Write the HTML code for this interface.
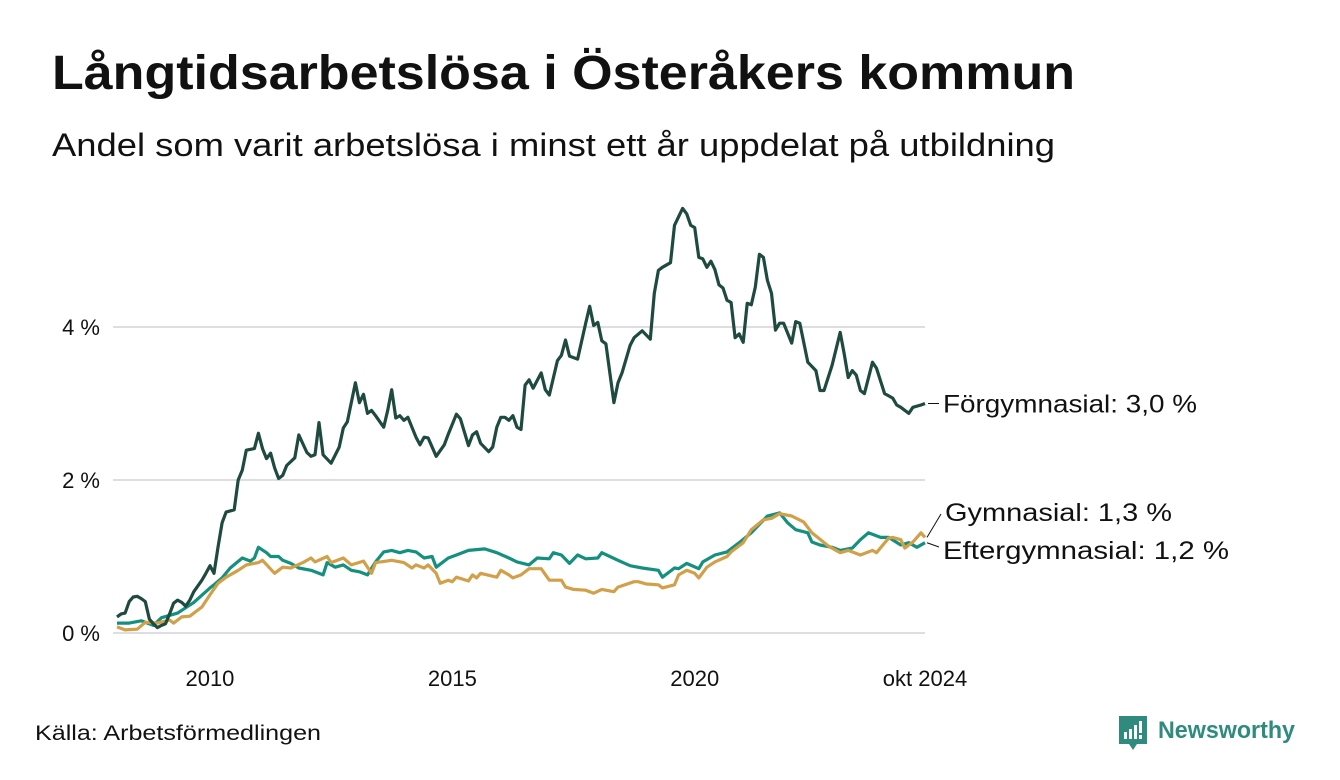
<!DOCTYPE html>
<html><head><meta charset="utf-8">
<style>
html,body{margin:0;padding:0;background:#fff;}
svg{display:block;font-family:"Liberation Sans",sans-serif;}
</style></head>
<body>
<svg id="chart" width="1340" height="780" viewBox="0 0 1340 780" xmlns="http://www.w3.org/2000/svg">
<rect width="1340" height="780" fill="#fff"/>
<text x="52" y="89" font-size="48" font-weight="bold" fill="#111" textLength="1023" lengthAdjust="spacingAndGlyphs">Långtidsarbetslösa i Österåkers kommun</text>
<text x="52" y="156" font-size="32" fill="#111" textLength="1003" lengthAdjust="spacingAndGlyphs">Andel som varit arbetslösa i minst ett år uppdelat på utbildning</text>
<g id="grid"></g>
<g id="xaxis"></g>
<g id="series"></g>
<g id="labels"></g>
<text x="35" y="740" font-size="21" fill="#111" textLength="286" lengthAdjust="spacingAndGlyphs">Källa: Arbetsförmedlingen</text>
<g>
<path d="M1119 716 h28 v28 h-10 l-4 6 l-4 -6 h-10 z" fill="#2e8b7d"/>
<rect x="1124" y="732" width="3" height="7" fill="#fff"/>
<rect x="1129" y="729" width="3" height="10" fill="#fff"/>
<rect x="1134" y="725" width="3" height="14" fill="#fff"/>
<rect x="1139" y="721" width="3" height="12" fill="#fff"/>
<rect x="1139" y="735" width="3" height="4" fill="#fff"/>
<text x="1158" y="738" font-size="24" font-weight="bold" fill="#2e8b7d" textLength="137" lengthAdjust="spacingAndGlyphs">Newsworthy</text>
</g>
</svg>
<script>
// months since Jan 2008, values in %
const forgMonths=[1,2,3,4,5,6,7,8,9,10,11,12,13,14,15,16,17,18,19,20,22,23,24,25,26,27,28,30,31,32,33,35,36,37,38,39,40,41,42,43,45,46,48,49,50,51,52,54,56,57,58,60,61,62,63,64,65,67,68,69,70,71,72,73,75,76,77,78,80,82,83,85,86,88,89,90,91,93,94,95,96,97,98,99,100,101,102,103,104,106,107,108,110,111,112,113,115,117,118,119,120,121,122,124,125,126,128,129,131,133,134,135,136,138,139,141,142,143,144,145,146,147,148,149,150,151,152,153,154,155,156,157,158,159,160,161,162,163,164,165,166,168,169,170,172,174,175,176,178,180,181,182,183,184,185,186,188,189,191,193,194,195,197,198,200,201];
const forgValues=[.21,.25,.26,.41,.47,.48,.45,.41,.18,.12,.07,.10,.12,.25,.39,.43,.40,.35,.43,.54,.69,.78,.88,.78,1.12,1.44,1.58,1.61,2.0,2.13,2.39,2.41,2.61,2.41,2.28,2.35,2.16,2.02,2.06,2.19,2.29,2.59,2.36,2.31,2.33,2.75,2.33,2.22,2.43,2.68,2.76,3.27,3.01,3.12,2.87,2.91,2.84,2.69,2.91,3.18,2.81,2.84,2.78,2.82,2.56,2.46,2.56,2.55,2.31,2.46,2.60,2.86,2.80,2.45,2.59,2.63,2.48,2.37,2.43,2.69,2.82,2.82,2.78,2.84,2.69,2.66,3.24,3.31,3.20,3.40,3.18,3.11,3.56,3.63,3.83,3.62,3.58,4.05,4.27,4.02,4.06,3.82,3.78,3.01,3.27,3.40,3.76,3.86,3.95,3.84,4.44,4.74,4.78,4.84,5.33,5.55,5.48,5.33,5.30,4.91,4.89,4.78,4.86,4.75,4.55,4.51,4.35,4.32,3.86,3.91,3.80,4.31,4.29,4.52,4.95,4.91,4.61,4.44,3.96,4.05,4.05,3.79,4.07,4.05,3.54,3.43,3.17,3.17,3.50,3.93,3.65,3.34,3.43,3.37,3.17,3.13,3.54,3.46,3.13,3.07,2.98,2.95,2.87,2.95,2.98,3.0];
const efterMonths=[1,4,7,10,12,16,20,24,25,27,29,32,34,35,36,38,39,41,42,44,46,49,52,53,55,57,59,61,63,65,67,69,71,73,75,77,79,80,83,85,88,92,95,98,100,103,105,108,109,111,113,115,117,120,121,123,125,128,131,135,136,139,140,142,145,146,149,152,155,158,162,165,167,169,172,173,175,178,180,183,185,187,190,192,195,197,199,201];
const efterValues=[.13,.13,.16,.10,.2,.26,.4,.59,.63,.72,.85,.98,.94,.98,1.12,1.05,1.0,1.0,.95,.91,.85,.82,.76,.92,.86,.89,.82,.80,.76,.93,1.06,1.08,1.05,1.08,1.06,.98,1.0,.86,.98,1.02,1.08,1.1,1.05,.98,.93,.89,.98,.97,1.05,1.02,.91,1.02,.97,.98,1.05,1.0,.95,.88,.85,.82,.73,.85,.84,.91,.84,.93,1.02,1.06,1.18,1.31,1.53,1.57,1.44,1.35,1.31,1.19,1.15,1.12,1.08,1.11,1.22,1.31,1.25,1.25,1.15,1.18,1.12,1.18];
const gymMonths=[1,3,6,8,11,14,15,17,19,22,24,26,28,31,33,36,37,40,42,44,47,49,50,53,54,57,59,62,64,65,69,72,74,75,77,78,80,81,83,84,85,88,89,90,91,95,96,98,99,101,103,106,108,111,112,114,117,119,121,124,125,129,130,132,135,136,139,140,142,144,145,147,149,152,153,156,158,161,163,165,168,171,173,177,180,182,185,188,189,192,193,195,196,198,200,201];
const gymValues=[.08,.04,.05,.14,.13,.17,.13,.21,.22,.34,.50,.65,.73,.82,.89,.92,.95,.78,.86,.85,.92,.98,.93,1.0,.92,.98,.89,.94,.78,.92,.95,.92,.85,.89,.85,.89,.78,.65,.69,.67,.73,.68,.76,.72,.78,.73,.82,.76,.72,.76,.84,.84,.69,.69,.6,.57,.56,.52,.57,.54,.6,.67,.67,.64,.63,.59,.63,.76,.82,.78,.72,.86,.93,1.0,1.06,1.18,1.35,1.48,1.50,1.56,1.53,1.45,1.31,1.14,1.05,1.08,1.02,1.08,1.05,1.24,1.25,1.22,1.11,1.19,1.31,1.25];
const yTicks=[0,2,4];
const yTickLabels=["0 %","2 %","4 %"];
const xTickMonths=[24,84,144,201];
const xTickLabels=["2010","2015","2020","okt 2024"];
const seriesNames=["Förgymnasial: 3,0 %","Gymnasial: 1,3 %","Eftergymnasial: 1,2 %"];

const NS="http://www.w3.org/2000/svg";
const X0=113,X1=925,M1=201,Y0=633,PX=76.5;
const xs=m=>X0+(X1-X0)*m/M1;
const ys=v=>Y0-v*PX;
function mk(tag,attrs,parent){const e=document.createElementNS(NS,tag);for(const k in attrs)e.setAttribute(k,attrs[k]);parent.appendChild(e);return e;}
const grid=document.getElementById('grid');
yTicks.forEach((t,i)=>{
  const l=mk('line',{x1:113,x2:925,y1:ys(t),y2:ys(t),stroke:'#dedde3','stroke-width':2},grid);
  
  
  const tx=mk('text',{x:100,y:ys(t)+8,'text-anchor':'end','font-size':22,fill:'#111'},grid);
  tx.textContent=yTickLabels[i];
  
  
});
const xa=document.getElementById('xaxis');
xTickMonths.forEach((m,i)=>{
  const tx=mk('text',{x:xs(m),y:686,'text-anchor':'middle','font-size':22,fill:'#111'},xa);
  tx.textContent=xTickLabels[i];
  
  
});
const sg=document.getElementById('series');
function line(ms,vs,color,name){
  const d=ms.map((m,i)=>(i?'L':'M')+xs(m).toFixed(1)+' '+ys(vs[i]).toFixed(1)).join(' ');
  const p=mk('path',{d:d,fill:'none',stroke:color,'stroke-width':3.2,'stroke-linejoin':'round'},sg);
  
  
}
line(efterMonths,efterValues,'#14907f','line-eftergymnasial');
line(gymMonths,gymValues,'#d1a049','line-gymnasial');
line(forgMonths,forgValues,'#1e4a40','line-forgymnasial');
const lg=document.getElementById('labels');
const fy=ys(forgValues[forgValues.length-1]),gy=ys(gymValues[gymValues.length-1]),ey=ys(efterValues[efterValues.length-1]);
mk('line',{x1:928,y1:fy,x2:939,y2:fy,stroke:'#111','stroke-width':1},lg);
mk('line',{x1:927,y1:gy,x2:941,y2:514,stroke:'#111','stroke-width':1},lg);
mk('line',{x1:927,y1:ey,x2:939,y2:547,stroke:'#111','stroke-width':1},lg);
[[fy+9,seriesNames[0],943,254,'label-forgymnasial'],[521,seriesNames[1],945,227,'label-gymnasial'],[559,seriesNames[2],943,286,'label-eftergymnasial']].forEach(a=>{
  const t=mk('text',{x:a[2],y:a[0],'font-size':25,fill:'#111',textLength:a[3],lengthAdjust:'spacingAndGlyphs'},lg);
  t.textContent=a[1];
  
  
});
</script>
</body></html>
